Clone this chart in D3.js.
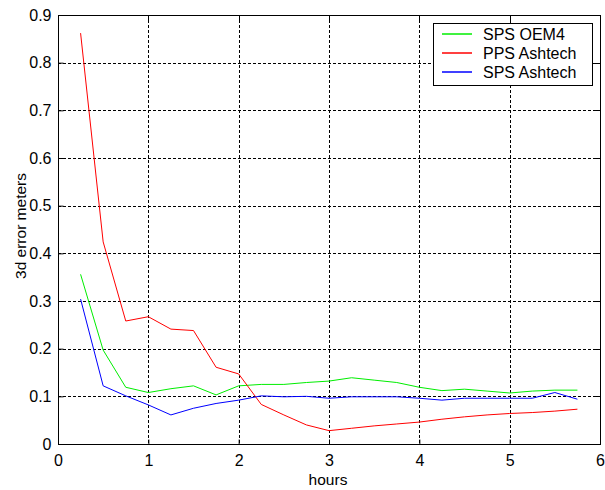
<!DOCTYPE html>
<html>
<head>
<meta charset="utf-8">
<script src="https://cdn.jsdelivr.net/npm/d3@7"></script>
<style>
  body { margin: 0; background: #fff; }
  svg text { font-family: "Liberation Sans", Arial, sans-serif; fill: #000; }
</style>
</head>
<body>
<svg></svg>
<script>
// hours sampled every quarter hour
let hours = [0.25, 0.5, 0.75, 1, 1.25, 1.5, 1.75, 2, 2.25, 2.5, 2.75, 3,
             3.25, 3.5, 3.75, 4, 4.25, 4.5, 4.75, 5, 5.25, 5.5, 5.75];
let spsOem4 = [0.356, 0.197, 0.119, 0.108, 0.116, 0.122, 0.103, 0.122, 0.125, 0.125, 0.129, 0.132,
               0.139, 0.134, 0.129, 0.119, 0.112, 0.115, 0.111, 0.107, 0.111, 0.113, 0.113];
let ppsAshtech = [0.862, 0.424, 0.258, 0.267, 0.241, 0.238, 0.161, 0.147, 0.083, 0.061, 0.040, 0.028,
                  0.033, 0.038, 0.042, 0.046, 0.052, 0.057, 0.061, 0.064, 0.066, 0.069, 0.073];
let spsAshtech = [0.304, 0.122, 0.101, 0.082, 0.061, 0.075, 0.085, 0.092, 0.101, 0.099, 0.100, 0.096,
                  0.099, 0.099, 0.099, 0.096, 0.092, 0.096, 0.096, 0.096, 0.096, 0.108, 0.094];
let seriesNames = ["SPS OEM4", "PPS Ashtech", "SPS Ashtech"];
let seriesColors = ["#00ee00", "#ff0000", "#0000ff"];
let xTicks = [0, 1, 2, 3, 4, 5, 6];
let yTicks = [0, 0.1, 0.2, 0.3, 0.4, 0.5, 0.6, 0.7, 0.8, 0.9];

let svg = d3.select("svg").attr("width", 605).attr("height", 490);

let mLeft = 58, mRight = 600, mTop = 15, mBottom = 444;

let x = d3.scaleLinear().domain([0, 6]).range([mLeft, mRight]);
let y = d3.scaleLinear().domain([0, 0.9]).range([mBottom, mTop]);

// grid
let grid = svg.append("g")
    .style("stroke", "#000")
    .style("stroke-width", 1)
    .style("stroke-dasharray", "3,2");

grid.selectAll(".vg")
    .data(xTicks.slice(1, -1))
    .enter()
    .append("line")
    .attr("x1", (d) => Math.round(x(d)) + 0.5)
    .attr("x2", (d) => Math.round(x(d)) + 0.5)
    .attr("y1", mTop)
    .attr("y2", mBottom);

grid.selectAll(".hg")
    .data(yTicks.slice(1, -1))
    .enter()
    .append("line")
    .attr("x1", mLeft)
    .attr("x2", mRight)
    .attr("y1", (d) => Math.round(y(d)) + 0.5)
    .attr("y2", (d) => Math.round(y(d)) + 0.5);

// axes with inward ticks
let xAxis = svg.append("g")
    .attr("transform", `translate(0,${mBottom + 0.5})`)
    .call(d3.axisBottom(x).tickValues(xTicks).tickSizeInner(-5).tickSizeOuter(0).tickPadding(10).tickFormat(d3.format("d")));
let yAxis = svg.append("g")
    .attr("transform", `translate(${mLeft + 0.5},0)`)
    .call(d3.axisLeft(y).tickValues(yTicks).tickSizeInner(-5).tickSizeOuter(0).tickPadding(7).tickFormat((d) => d === 0 ? "0" : d3.format(".1f")(d)));

[xAxis, yAxis].forEach((a) => {
    a.select(".domain").remove();
    a.selectAll("text").style("font-size", "16px").style("fill", "#000");
    a.selectAll("line").style("stroke", "#000");
});

// frame
svg.append("rect")
    .attr("x", mLeft + 0.5)
    .attr("y", mTop + 0.5)
    .attr("width", mRight - mLeft)
    .attr("height", mBottom - mTop)
    .style("fill", "none")
    .style("stroke", "#000")
    .style("stroke-width", 1);

// top / right ticks
svg.append("g").selectAll("line")
    .data(xTicks)
    .enter()
    .append("line")
    .attr("x1", (d) => Math.round(x(d)) + 0.5)
    .attr("x2", (d) => Math.round(x(d)) + 0.5)
    .attr("y1", mTop)
    .attr("y2", mTop + 5)
    .style("stroke", "#000");
svg.append("g").selectAll("line")
    .data(yTicks)
    .enter()
    .append("line")
    .attr("x1", mRight - 5)
    .attr("x2", mRight)
    .attr("y1", (d) => Math.round(y(d)) + 0.5)
    .attr("y2", (d) => Math.round(y(d)) + 0.5)
    .style("stroke", "#000");

// lines
let allSeries = [spsOem4, ppsAshtech, spsAshtech];
let line = d3.line().x((d, i) => x(hours[i])).y((d) => y(d));

allSeries.forEach((s, k) => {
    svg.append("path")
        .attr("d", line(s))
        .style("fill", "none")
        .style("stroke", seriesColors[k])
        .style("stroke-width", 1);
});

// axis labels
svg.append("text")
    .attr("x", 328)
    .attr("y", 485)
    .attr("text-anchor", "middle")
    .style("font-size", "15.5px")
    .text("hours");

svg.append("text")
    .attr("transform", `translate(26,226) rotate(-90)`)
    .attr("text-anchor", "middle")
    .style("font-size", "15.5px")
    .text("3d error meters");

// legend
let legend = svg.append("g");
legend.append("rect")
    .attr("x", 433.5)
    .attr("y", 23.5)
    .attr("width", 159)
    .attr("height", 62)
    .style("fill", "#fff")
    .style("stroke", "#000");

seriesNames.forEach((name, k) => {
    let ly = 34 + k * 19;
    legend.append("line")
        .attr("x1", 442)
        .attr("x2", 472)
        .attr("y1", ly)
        .attr("y2", ly)
        .style("stroke", seriesColors[k])
        .style("stroke-width", 1.5);
    legend.append("text")
        .attr("x", 483)
        .attr("y", ly + 6)
        .style("font-size", "16px")
        .text(name);
});
</script>
</body>
</html>
